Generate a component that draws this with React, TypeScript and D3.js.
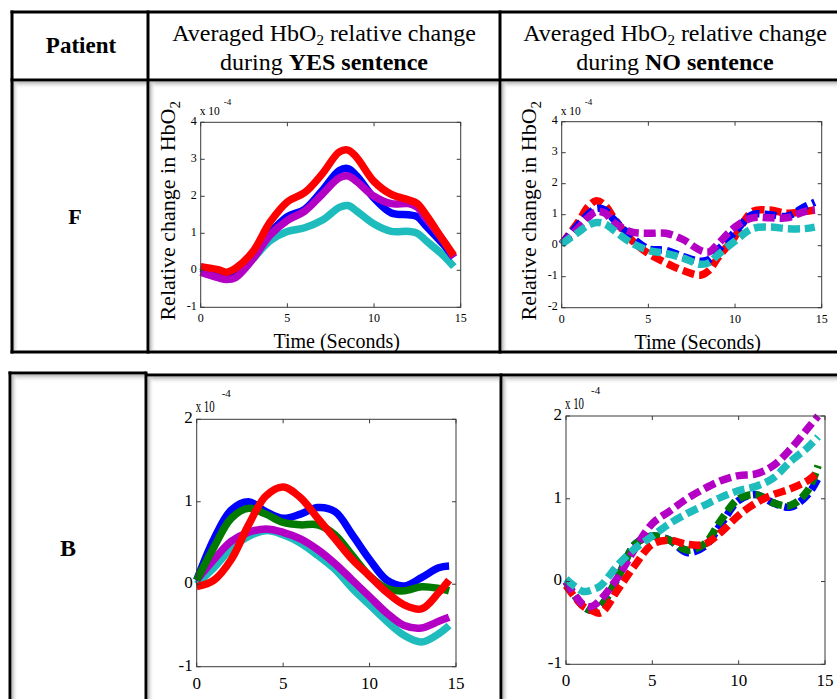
import * as d3 from "d3";

const FONT = "'Liberation Serif', 'Times New Roman', serif";

const RED = "#ff0000";
const BLUE = "#0000ff";
const MAGENTA = "#b400c4";
const CYAN = "#1ebcbc";
const GREEN = "#007a00";

// Patient F, YES sentence (x 10^-4)
const TIME_F_YES = [0, 1, 1.5, 2, 3, 4, 5, 6, 7, 8, 8.5, 9, 10, 11, 12, 12.5, 13, 14, 14.6];
const F_YES_CYAN = [0.1, -0.1, -0.2, -0.15, 0.3, 0.8, 1.05, 1.15, 1.35, 1.7, 1.75, 1.6, 1.25, 1.05, 1.05, 1.0, 0.8, 0.4, 0.1];
const F_YES_BLUE = [0.05, -0.1, -0.2, -0.15, 0.35, 1.0, 1.45, 1.65, 2.15, 2.7, 2.75, 2.55, 1.95, 1.55, 1.5, 1.45, 1.2, 0.7, 0.35];
const F_YES_MAGENTA = [-0.05, -0.2, -0.25, -0.2, 0.3, 0.95, 1.35, 1.6, 2.05, 2.5, 2.55, 2.4, 2.0, 1.8, 1.8, 1.7, 1.4, 0.8, 0.35];
const F_YES_RED = [0.1, 0.02, -0.05, 0.05, 0.5, 1.3, 1.85, 2.1, 2.6, 3.2, 3.25, 3.05, 2.4, 2.05, 1.9, 1.8, 1.5, 0.8, 0.4];

// Patient F, NO sentence
const TIME_F_NO = [0, 1, 1.5, 2, 2.5, 3, 4, 5, 6, 7, 8, 8.5, 9, 10, 11, 12, 13, 14, 14.6];
const F_NO_RED = [0.05, 0.8, 1.25, 1.45, 1.3, 0.9, 0.2, -0.25, -0.55, -0.8, -0.95, -0.8, -0.4, 0.3, 1.1, 1.15, 1.05, 1.1, 1.15];
const F_NO_BLUE = [0.05, 0.7, 1.0, 1.2, 1.15, 0.85, 0.3, -0.1, -0.15, -0.35, -0.5, -0.45, -0.15, 0.45, 1.0, 1.0, 0.95, 1.25, 1.4];
const F_NO_MAGENTA = [0.05, 0.6, 0.9, 1.1, 1.05, 0.75, 0.45, 0.4, 0.4, 0.2, -0.15, -0.2, 0.05, 0.6, 0.9, 0.9, 0.9, 1.1, 1.15];
const F_NO_CYAN = [0.05, 0.45, 0.65, 0.75, 0.7, 0.5, 0.1, -0.15, -0.25, -0.4, -0.6, -0.55, -0.3, 0.15, 0.55, 0.6, 0.55, 0.55, 0.6];

// Patient B, YES sentence
const TIME_B_YES = [0, 1, 2, 3, 4, 5, 6, 7, 8, 9, 10, 11, 12, 13, 14, 14.6];
const B_YES_CYAN = [0.0, 0.2, 0.43, 0.58, 0.65, 0.6, 0.5, 0.35, 0.18, -0.05, -0.25, -0.45, -0.62, -0.7, -0.6, -0.5];
const B_YES_MAGENTA = [0.05, 0.3, 0.52, 0.63, 0.67, 0.63, 0.55, 0.42, 0.25, 0.05, -0.15, -0.35, -0.5, -0.53, -0.45, -0.4];
const B_YES_BLUE = [0.05, 0.55, 0.9, 1.0, 0.88, 0.8, 0.85, 0.93, 0.88, 0.6, 0.3, 0.05, -0.02, 0.08, 0.2, 0.22];
const B_YES_GREEN = [0.05, 0.45, 0.8, 0.92, 0.85, 0.75, 0.72, 0.72, 0.6, 0.35, 0.1, -0.05, -0.08, -0.03, -0.05, -0.08];
const B_YES_RED = [-0.03, 0.05, 0.3, 0.72, 1.07, 1.18, 1.05, 0.8, 0.55, 0.3, 0.1, -0.1, -0.25, -0.3, -0.1, 0.05];

// Patient B, NO sentence
const TIME_B_NO = [0, 1, 1.5, 2, 3, 4, 5, 6, 7, 8, 9, 10, 11, 12, 13, 14, 14.6];
const B_NO_BLUE = [0.0, -0.3, -0.35, -0.3, 0.05, 0.45, 0.55, 0.5, 0.35, 0.42, 0.7, 0.98, 1.05, 0.95, 0.9, 1.05, 1.25];
const B_NO_GREEN = [0.0, -0.3, -0.35, -0.3, 0.05, 0.45, 0.55, 0.5, 0.38, 0.45, 0.75, 1.0, 1.05, 0.95, 0.92, 1.1, 1.4];
const B_NO_RED = [-0.05, -0.3, -0.35, -0.38, -0.1, 0.2, 0.45, 0.5, 0.45, 0.45, 0.6, 0.8, 0.95, 1.05, 1.12, 1.22, 1.32];
const B_NO_MAGENTA = [0.0, -0.28, -0.3, -0.22, 0.05, 0.4, 0.7, 0.85, 1.0, 1.12, 1.22, 1.28, 1.3, 1.4, 1.6, 1.85, 2.0];
const B_NO_CYAN = [0.03, -0.12, -0.1, -0.05, 0.2, 0.4, 0.55, 0.7, 0.82, 0.92, 1.02, 1.1, 1.15, 1.25, 1.45, 1.62, 1.75];

const X_TICKS = [0, 5, 10, 15];

type Series = { color: string; values: number[] };

type PlotProps = {
  left: number;
  right: number;
  top: number;
  bottom: number;
  yMin: number;
  yMax: number;
  time: number[];
  series: Series[];
  dashed?: boolean;
  big?: boolean;
  labels?: boolean;
};

const Plot = ({ left, right, top, bottom, yMin, yMax, time, series, dashed, big, labels }: PlotProps) => {
  const x = d3.scaleLinear().domain([0, 15]).range([left, right]);
  const y = d3.scaleLinear().domain([yMin, yMax]).range([bottom, top]);
  const yTicks = d3.range(yMin, yMax + 1);
  const line = d3
    .line<number>()
    .x((_, i) => x(time[i]))
    .y((d) => y(d))
    .curve(d3.curveCatmullRom.alpha(0.5));

  const tickFs = big ? 17 : 12;
  const tl = 4;

  return (
    <g fontFamily={FONT}>
      {series.map((s, i) => (
        <path
          key={i}
          d={line(s.values) ?? ""}
          fill="none"
          stroke={s.color}
          strokeWidth={7.5}
          strokeDasharray={dashed ? "12 5" : undefined}
        />
      ))}
      <rect x={left} y={top} width={right - left} height={bottom - top} fill="none" stroke="#3a3a3a" strokeWidth={1} />
      {X_TICKS.map((t) => (
        <g key={t}>
          <line x1={x(t)} x2={x(t)} y1={bottom} y2={bottom - tl} stroke="#3a3a3a" />
          <line x1={x(t)} x2={x(t)} y1={top} y2={top + tl} stroke="#3a3a3a" />
          <text x={x(t)} y={bottom + (big ? 22 : 15)} fontSize={tickFs} textAnchor="middle">
            {t}
          </text>
        </g>
      ))}
      {yTicks.map((t) => (
        <g key={t}>
          <line x1={left} x2={left + tl} y1={y(t)} y2={y(t)} stroke="#3a3a3a" />
          <line x1={right} x2={right - tl} y1={y(t)} y2={y(t)} stroke="#3a3a3a" />
          <text x={left - 4} y={y(t)} fontSize={tickFs} textAnchor="end" dominantBaseline="middle">
            {t}
          </text>
        </g>
      ))}
      <text x={left - 1} y={top - 7} fontSize={big ? 16 : 12} textLength={big ? 19 : 20} lengthAdjust="spacingAndGlyphs">
        x 10
      </text>
      <text x={left + (big ? 25 : 23)} y={top - (big ? 22 : 17)} fontSize={big ? 11 : 9}>
        -4
      </text>
      {labels && (
        <>
          <text
            transform={`translate(${left - 26},${(top + bottom) / 2 - 4}) rotate(-90)`}
            fontSize={22}
            textAnchor="middle"
          >
            Relative change in HbO
            <tspan fontSize={15} dy={5}>
              2
            </tspan>
          </text>
          <text x={(left + right) / 2 + 6} y={bottom + 41} fontSize={20} textAnchor="middle">
            Time (Seconds)
          </text>
        </>
      )}
    </g>
  );
};

const Shade = ({ x, y, w, h }: { x: number; y: number; w: number; h: number }) => (
  <g>
    <rect x={x} y={y} width={w} height={7} fill="url(#shadeV)" />
    <rect x={x} y={y} width={6} height={h} fill="url(#shadeH)" />
  </g>
);

const App = () => {
  const bw = 3;
  return (
    <svg width={837} height={699} style={{ position: "absolute", left: 0, top: 0, background: "#fff" }}>
      <defs>
        <linearGradient id="shadeV" x1="0" y1="0" x2="0" y2="1">
          <stop offset="0" stopColor="#b8b8b8" />
          <stop offset="1" stopColor="#ffffff" stopOpacity={0} />
        </linearGradient>
        <linearGradient id="shadeH" x1="0" y1="0" x2="1" y2="0">
          <stop offset="0" stopColor="#b8b8b8" />
          <stop offset="1" stopColor="#ffffff" stopOpacity={0} />
        </linearGradient>
      </defs>

      {/* table 1 shading */}
      <Shade x={150} y={82} w={348} h={268} />
      <Shade x={502} y={82} w={335} h={268} />
      <Shade x={13} y={82} w={134} h={268} />
      {/* table 2 shading */}
      <Shade x={12} y={375} w={133} h={324} />
      <Shade x={148} y={377} w={351} h={322} />
      <Shade x={503} y={377} w={334} h={322} />

      {/* table 1 grid */}
      <g stroke="#000" strokeWidth={bw}>
        <line x1={10.5} x2={837} y1={12} y2={12} />
        <line x1={10.5} x2={837} y1={80} y2={80} />
        <line x1={10.5} x2={837} y1={352} y2={352} />
        <line x1={12} x2={12} y1={10.5} y2={353.5} />
        <line x1={148} x2={148} y1={10.5} y2={353.5} />
        <line x1={500} x2={500} y1={10.5} y2={353.5} />
      </g>
      {/* table 2 grid */}
      <g stroke="#000" strokeWidth={bw}>
        <line x1={8.5} x2={146} y1={373} y2={373} />
        <line x1={146} x2={837} y1={375} y2={375} />
        <line x1={10} x2={10} y1={371.5} y2={699} />
        <line x1={146} x2={146} y1={371.5} y2={699} />
        <line x1={501} x2={501} y1={373.5} y2={699} />
      </g>

      <g fontFamily={FONT} fill="#000">
        <text x={81} y={53} fontSize={23} fontWeight="bold" textAnchor="middle">
          Patient
        </text>
        <text x={324} y={41} fontSize={24} textAnchor="middle">
          Averaged HbO<tspan fontSize={15} dy={4}>2</tspan>
          <tspan dy={-4}> relative change</tspan>
        </text>
        <text x={324} y={70} fontSize={24} textAnchor="middle">
          during <tspan fontWeight="bold">YES sentence</tspan>
        </text>
        <text x={675} y={41} fontSize={24} textAnchor="middle">
          Averaged HbO<tspan fontSize={15} dy={4}>2</tspan>
          <tspan dy={-4}> relative change</tspan>
        </text>
        <text x={675} y={70} fontSize={24} textAnchor="middle">
          during <tspan fontWeight="bold">NO sentence</tspan>
        </text>
        <text x={75} y={224} fontSize={22} fontWeight="bold" textAnchor="middle">
          F
        </text>
        <text x={68} y={556} fontSize={24} fontWeight="bold" textAnchor="middle">
          B
        </text>
      </g>

      <Plot
        left={200.7}
        right={460.7}
        top={122.3}
        bottom={307.3}
        yMin={-1}
        yMax={4}
        time={TIME_F_YES}
        labels
        series={[
          { color: CYAN, values: F_YES_CYAN },
          { color: BLUE, values: F_YES_BLUE },
          { color: MAGENTA, values: F_YES_MAGENTA },
          { color: RED, values: F_YES_RED },
        ]}
      />
      <Plot
        left={561.7}
        right={821.7}
        top={121.7}
        bottom={307.7}
        yMin={-2}
        yMax={4}
        time={TIME_F_NO}
        labels
        dashed
        series={[
          { color: RED, values: F_NO_RED },
          { color: BLUE, values: F_NO_BLUE },
          { color: MAGENTA, values: F_NO_MAGENTA },
          { color: CYAN, values: F_NO_CYAN },
        ]}
      />
      <Plot
        left={196.7}
        right={456}
        top={419.3}
        bottom={666.7}
        yMin={-1}
        yMax={2}
        time={TIME_B_YES}
        big
        series={[
          { color: CYAN, values: B_YES_CYAN },
          { color: MAGENTA, values: B_YES_MAGENTA },
          { color: BLUE, values: B_YES_BLUE },
          { color: GREEN, values: B_YES_GREEN },
          { color: RED, values: B_YES_RED },
        ]}
      />
      <Plot
        left={566}
        right={825}
        top={416}
        bottom={664.3}
        yMin={-1}
        yMax={2}
        time={TIME_B_NO}
        big
        dashed
        series={[
          { color: BLUE, values: B_NO_BLUE },
          { color: GREEN, values: B_NO_GREEN },
          { color: RED, values: B_NO_RED },
          { color: MAGENTA, values: B_NO_MAGENTA },
          { color: CYAN, values: B_NO_CYAN },
        ]}
      />
    </svg>
  );
};

export default App;
